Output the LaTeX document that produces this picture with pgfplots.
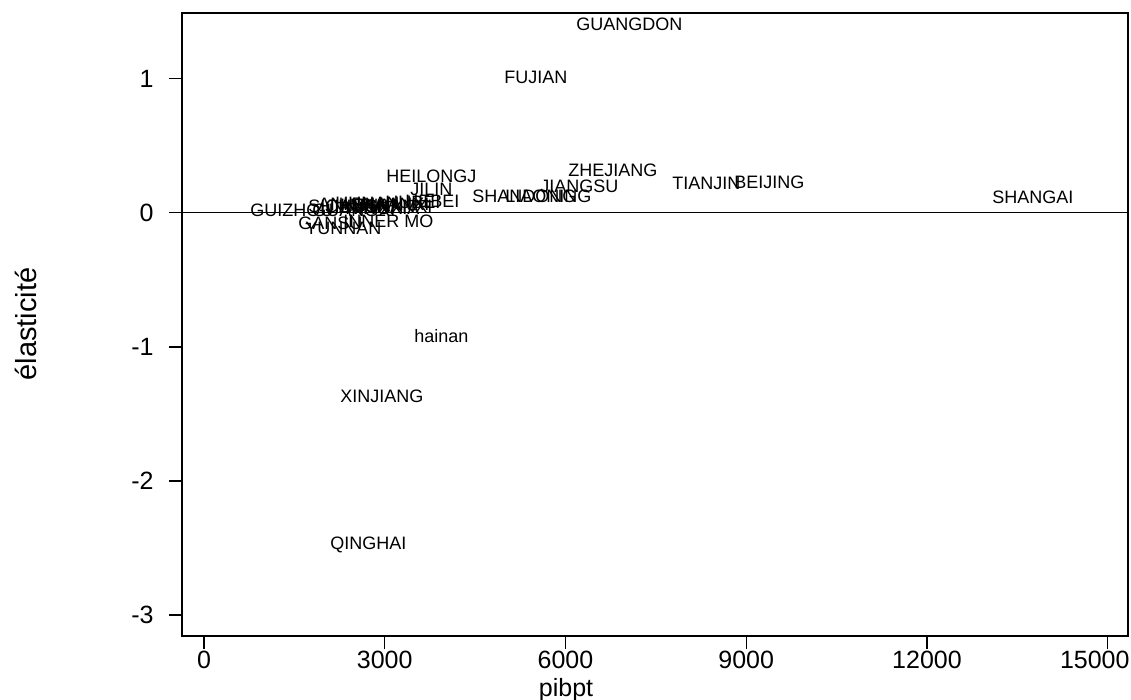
\documentclass[border=0pt]{standalone}
\usepackage{fontspec}
\setmainfont{Liberation Sans}
\usepackage{pgfplots}
\pgfplotsset{compat=1.18}
\usepackage{pgfplotstable}

\pgfplotstableread[col sep=comma]{
x,y,label
6174,1.403,GUANGDON
4979,1.007,FUJIAN
6041,0.313,ZHEJIANG
3021,0.269,HEILONGJ
3419,0.172,JILIN
7768,0.216,TIANJIN
8797,0.224,BEIJING
5577,0.194,JIANGSU
4448,0.119,SHANDONG
4996,0.119,LIAONING
13079,0.112,SHANGAI
763,0.015,GUIZHOU
3485,-0.918,hainan
2257,-1.366,XINJIANG
2091,-2.478,QINGHAI
1560,-0.082,GANSU
1676,-0.119,YUNNAN
2307,-0.067,INNER MO
1726,0.045,SICHUAN
1793,0.022,GUANGXI
1892,0.060,ANHUI
2008,0.045,JIANGXI
2174,0.067,HUNAN
2257,0.052,HENAN
2340,0.030,NINGXIA
2423,0.060,SHAANXI
2672,0.045,SHANXI
3004,0.075,HUBEI
3336,0.082,HEBEI
}\provdata

\begin{document}
\begin{tikzpicture}
\useasboundingbox (-91bp,-32bp) rectangle (474.5bp,318bp);
\begin{axis}[
  at={(0,0)}, anchor=south west,
  scale only axis,
  width=473bp, height=311.5bp,
  xmin=-365, xmax=15336,
  ymin=-3.157, ymax=1.49,
  xtick={0,3000,6000,9000,12000,15000},
  xticklabels={0,3000,6000,9000,12000,{\makebox[0pt]{\hspace{-13bp}15000}}},
  ytick={-3,-2,-1,0,1},
  scaled ticks=false,
  tick pos=left,
  tick align=outside,
  major tick length=6.5bp,
  axis line style={line width=0.7bp},
  every tick/.style={black, line width=0.7bp},
  /pgf/number format/assume math mode=true,
  /pgf/number format/1000 sep={},
  tick label style={font=\fontsize{12.5bp}{14bp}\selectfont},
  xticklabel style={inner sep=0pt, yshift=-1bp, font=\fontsize{12.5bp}{14bp}\selectfont},
  yticklabel style={inner sep=0pt, xshift=-7.5bp},
  xlabel={pibpt},
  ylabel={élasticité},
  every axis x label/.style={at={(axis description cs:0.406,-0.0867)}, anchor=center, font=\fontsize{12.5bp}{14bp}\selectfont},
  every axis y label/.style={at={(axis description cs:-0.165,0.501)}, anchor=center, rotate=90, font=\fontsize{14.5bp}{16bp}\selectfont},
  clip=false,
]
\addplot[black, line width=0.6bp, forget plot] coordinates {(-365,0) (15336,0)};
\addplot[draw=none, mark=none, nodes near coords,
  point meta=explicit symbolic,
  nodes near coords style={anchor=west, inner sep=0pt, font=\fontsize{9bp}{10bp}\selectfont, black}]
  table[x=x, y=y, meta=label] {\provdata};
\end{axis}
\end{tikzpicture}
\end{document}
